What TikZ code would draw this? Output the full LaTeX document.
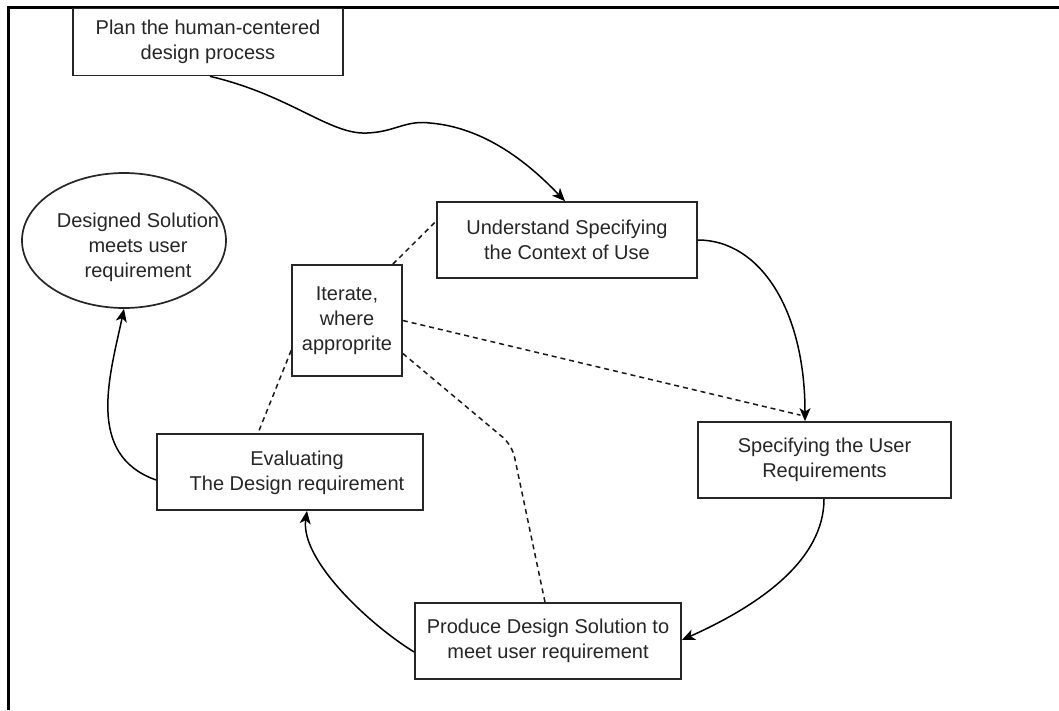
\documentclass[tikz,border=0pt]{standalone}
\usepackage{fontspec}
\setmainfont{Liberation Sans}
\usetikzlibrary{shapes.geometric,arrows.meta,calc}
\tikzset{
  box/.style={draw=black!85, line width=1.7pt, rectangle, inner sep=0pt},
  txt/.style={font=\fontsize{20}{25}\selectfont, align=center, text=black!85, inner sep=0pt},
  flow/.style={draw=black, line width=1.5pt, -{Stealth[length=13pt,width=11pt,inset=3.5pt]}},
  iterline/.style={draw=black!90, line width=1.5pt, dash pattern=on 5pt off 4pt},
}
\begin{document}
\begin{tikzpicture}[x=1pt,y=-1pt]
\useasboundingbox (0,0) rectangle (1059,710);
\fill[white] (0,0) rectangle (1059,710);
% frame
\draw[line width=3pt] (8.5,710) -- (8.5,7.5) -- (1059,7.5);

% nodes
\node[box, minimum width=270pt, minimum height=67pt, txt] (plan) at (208,42) {Plan the human-centered\\design process};
\node[box, minimum width=260pt, minimum height=76pt, txt] (und) at (567,240) {Understand Specifying\\the Context of Use};
\node[box, minimum width=110pt, minimum height=111pt, txt] (iter) at (347,320.5) {Iterate,\\where\\approprite};
\node[draw=black!85, line width=1.7pt, ellipse, minimum width=204pt, minimum height=135pt, inner sep=0pt] (ell) at (124,240.5) {};
\node[txt] (elltext) at (138,247) {Designed Solution\\meets user\\requirement};
\node[box, minimum width=253pt, minimum height=76pt, txt] (spec) at (824.5,460) {Specifying the User\\Requirements};
\node[box, minimum width=266pt, minimum height=76pt] (eval) at (290,472) {};
\node[txt] (evaltext) at (297,473) {Evaluating\\The Design requirement};
\node[box, minimum width=266pt, minimum height=76pt, txt] (prod) at (548,641) {Produce Design Solution to\\meet user requirement};

% flow connectors
\draw[flow] ($(plan.south)+(2,0)$) .. controls (290,95) and (330,135) .. (367,133)
   .. controls (395,132) and (405,120) .. (430,123)
   .. controls (490,128) and (535,170) .. ($(und.north)+(-2,0)$);
\draw[flow] (und.east) .. controls (760,240) and (805,310) .. ($(spec.north)+(-19.5,0)$);
\draw[flow] ($(spec.south)+(-0.5,0)$) .. controls (824,560) and (760,605) .. ($(prod.east)+(0,-1)$);
\draw[flow] ($(prod.west)+(0,11)$) .. controls (370,625) and (300,560) .. ($(eval.south)+(17,0)$);
\draw[flow] ($(eval.west)+(0,8)$) .. controls (85,455) and (110,375) .. (ell.south);

% iterate dashed links
\coordinate (bend) at (512,445);
\draw[iterline] ($(iter.north east)+(-10,0)$) -- ($(und.north west)+(0,20)$);
\draw[iterline] (iter.east) -- ($(spec.north)+(-24,-6)$);
\draw[iterline, rounded corners=12pt] ($(iter.east)+(0,33)$) -- (bend) -- ($(prod.north)+(-3,0)$);
\draw[iterline] ($(iter.west)+(0,30)$) -- ($(eval.north)+(-32,0)$);
\end{tikzpicture}
\end{document}
